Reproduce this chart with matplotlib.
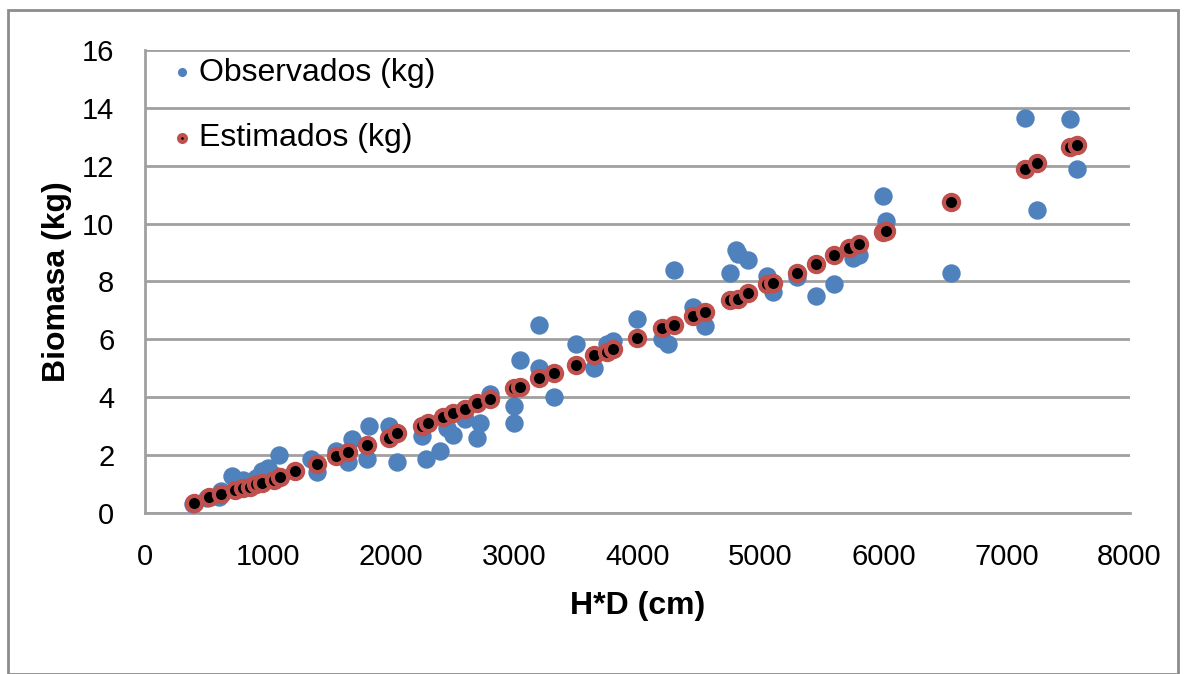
import matplotlib.pyplot as plt
from matplotlib.patches import Rectangle

# H*D (cm) vs biomasa (kg)
obs_x = [390, 500, 600, 620, 707, 800, 900, 950, 1000, 1050, 1089,
         1350, 1400, 1550, 1650, 1680, 1800, 1820, 1980, 2050,
         2250, 2280, 2400, 2450, 2500, 2600, 2700, 2720, 2800,
         3000, 3000, 3050, 3200, 3200, 3320, 3500, 3650, 3750, 3800,
         4000, 4200, 4250, 4300, 4450, 4550, 4750, 4800, 4820, 4900,
         5050, 5100, 5300, 5450, 5600, 5750, 5800, 6000, 6020, 6550,
         7150, 7250, 7520, 7570]
obs_y = [0.3, 0.5, 0.55, 0.75, 1.28, 1.15, 1.2, 1.45, 1.55, 1.3, 2.0,
         1.85, 1.4, 2.15, 1.75, 2.55, 1.85, 3.0, 3.0, 1.75,
         2.65, 1.85, 2.15, 2.95, 2.7, 3.25, 2.6, 3.1, 4.1,
         3.1, 3.7, 5.3, 6.5, 5.0, 4.0, 5.85, 5.0, 5.85, 5.95,
         6.7, 6.0, 5.85, 8.4, 7.1, 6.45, 8.3, 9.1, 8.95, 8.75,
         8.2, 7.65, 8.15, 7.5, 7.9, 8.8, 8.9, 10.95, 10.1, 8.3,
         13.65, 10.45, 13.6, 11.9]

est_x = [400, 520, 620, 730, 800, 850, 900, 950, 1050, 1100, 1220,
         1400, 1550, 1650, 1800, 1980, 2050, 2250, 2300, 2420, 2500,
         2600, 2700, 2800, 3000, 3050, 3200, 3320, 3500, 3650, 3750,
         3800, 4000, 4200, 4300, 4450, 4550, 4750, 4820, 4900, 5050,
         5100, 5300, 5450, 5600, 5720, 5800, 6000, 6020, 6550, 7150,
         7250, 7520, 7570]
est_y = [0.35, 0.55, 0.65, 0.8, 0.85, 0.9, 1.0, 1.05, 1.15, 1.25, 1.45,
         1.7, 1.95, 2.1, 2.35, 2.6, 2.75, 3.0, 3.1, 3.3, 3.45,
         3.6, 3.8, 3.95, 4.3, 4.35, 4.65, 4.85, 5.1, 5.45, 5.55,
         5.65, 6.05, 6.4, 6.5, 6.8, 6.95, 7.35, 7.4, 7.6, 7.9,
         7.95, 8.3, 8.6, 8.9, 9.15, 9.3, 9.7, 9.75, 10.75, 11.9,
         12.1, 12.65, 12.7]

plt.rcParams['font.family'] = ['Liberation Sans Narrow', 'Liberation Sans', 'DejaVu Sans']

fig = plt.figure(figsize=(11.84, 6.74), dpi=100)
ax = fig.add_axes([0.1225, 0.239, 0.8315, 0.687])

fig.patches.append(Rectangle((0.007, 0.0), 0.988, 0.985, transform=fig.transFigure,
                             fill=False, edgecolor='#8c8c8c', lw=2))

ax.scatter(obs_x, obs_y, s=150, color='#4F81BD', label='Observados (kg)', zorder=3)
ax.scatter(est_x, est_y, s=120, color='black', edgecolor='#C0504D', linewidths=3,
           label='Estimados (kg)', zorder=4)

ax.set_xlim(0, 8000)
ax.set_ylim(0, 16)
ax.set_xticks(range(0, 8001, 1000))
ax.set_yticks(range(0, 17, 2))
ax.tick_params(length=0, labelsize=21)
ax.tick_params(axis='x', pad=22)
ax.tick_params(axis='y', pad=22)
ax.grid(axis='y', color='#a0a0a0', lw=2)
ax.set_axisbelow(True)
for s in ['top', 'right']:
    ax.spines[s].set_visible(False)
for s in ['left', 'bottom']:
    ax.spines[s].set_color('#a0a0a0')
    ax.spines[s].set_linewidth(2)

ax.set_xlabel('H*D (cm)', fontsize=23, fontweight='bold', labelpad=14)
ax.set_ylabel('Biomasa (kg)', fontsize=23, fontweight='bold', labelpad=7)

leg = ax.legend(loc='upper left', bbox_to_anchor=(-0.008, 1.045), frameon=False,
                fontsize=23, markerscale=0.45, labelspacing=1.1,
                handletextpad=0.05, handlelength=1.0)

fig.savefig('out.png', dpi=100)
